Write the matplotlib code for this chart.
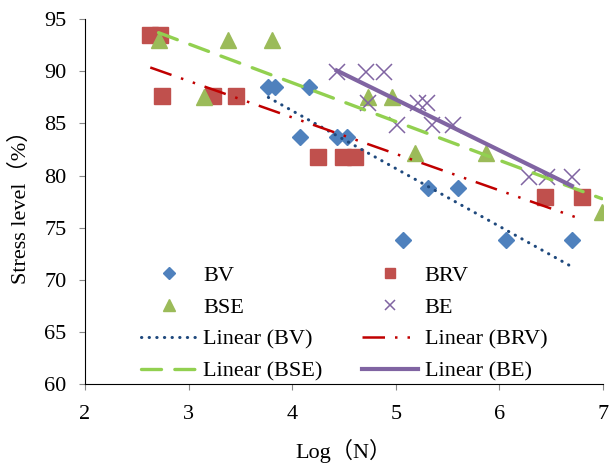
import numpy as np
import matplotlib.pyplot as plt

plt.rcParams['font.family'] = ['Liberation Serif', 'Noto Sans CJK SC']
plt.rcParams['font.size'] = 16

# Datos
bv_x = [3.77, 3.83, 4.08, 4.16, 4.43, 4.53, 5.07, 5.31, 5.60, 6.06, 6.70]
bv_y = [88.5, 88.5, 83.7, 88.5, 83.7, 83.7, 73.8, 78.8, 78.8, 73.8, 73.8]

brv_x = [2.63, 2.72, 2.74, 3.24, 3.46, 4.25, 4.49, 4.61, 6.44, 6.80]
brv_y = [93.5, 93.5, 87.6, 87.6, 87.6, 81.8, 81.8, 81.8, 77.9, 77.9]

bse_x = [2.71, 3.15, 3.38, 3.81, 4.73, 4.96, 5.19, 5.87, 6.99]
bse_y = [93.0, 87.5, 93.0, 93.0, 87.5, 87.5, 82.2, 82.2, 76.5]

be_x = [4.43, 4.71, 4.89, 4.73, 5.21, 5.30, 5.01, 5.35, 5.55, 6.29, 6.46, 6.70]
be_y = [89.9, 89.9, 89.9, 87.0, 87.0, 87.0, 84.9, 84.9, 84.9, 79.9, 79.9, 79.9]

xticks = [2, 3, 4, 5, 6, 7]
yticks = [60, 65, 70, 75, 80, 85, 90, 95]


def trend(x):
    # recta de tendencia entre el minimo y maximo
    return np.array([min(x), max(x)])


fig = plt.figure(figsize=(6.09, 4.65), dpi=100)
ax = fig.add_axes([0.1396, 0.1742, 0.8504, 0.7843])

h_bv, = ax.plot(bv_x, bv_y, 'D', color='#4F81BD', markersize=8.5, linestyle='none', label='BV')
h_brv, = ax.plot(brv_x, brv_y, 's', color='#C0504D', markersize=11, linestyle='none', label='BRV')
h_bse, = ax.plot(bse_x, bse_y, '^', color='#9BBB59', markersize=12, linestyle='none', label='BSE')
h_be, = ax.plot(be_x, be_y, 'x', color='#8064A2', markersize=11, markeredgewidth=1.1,
                linestyle='none', label='BE')

# lineas de tendencia (ajuste lineal)
xs = trend(bv_x)
p = np.polyfit(bv_x, bv_y, 1)
l_bv, = ax.plot(xs, np.polyval(p, xs), color='#1F497D', lw=2.2,
                linestyle=(0, (0.1, 2.4)), dash_capstyle='round', label='Linear (BV)')

xs = trend(brv_x)
p = np.polyfit(brv_x, brv_y, 1)
l_brv, = ax.plot(xs, np.polyval(p, xs), color='#C00000', lw=1.8,
                 linestyle=(0, (9, 4, 1, 4, 1, 4)), label='Linear (BRV)')

xs = trend(bse_x)
p = np.polyfit(bse_x, bse_y, 1)
l_bse, = ax.plot(xs, np.polyval(p, xs), color='#92D050', lw=2.4,
                 linestyle=(0, (6, 4)), dash_capstyle='round', label='Linear (BSE)')

xs = trend(be_x)
p = np.polyfit(be_x, be_y, 1)
l_be, = ax.plot(xs, np.polyval(p, xs), color='#8064A2', lw=3, label='Linear (BE)')

ax.set_xlim(2, 7)
ax.set_ylim(60, 95)
ax.set_xticks(xticks)
ax.set_yticks(yticks)
ax.spines['top'].set_visible(False)
ax.spines['right'].set_visible(False)
ax.tick_params(direction='out', length=4.3, color='#888888', labelsize=16)
ax.tick_params(axis='x', pad=11)
ax.tick_params(axis='y', pad=9)

ax.set_xlabel('Log（N）', fontsize=16)
ax.set_ylabel('Stress level（%）', fontsize=16)
ax.xaxis.set_label_coords(0.5, -0.152)
ax.yaxis.set_label_coords(-0.105, 0.5)

handles = [h_bv, h_bse, l_bv, l_bse, h_brv, h_be, l_brv, l_be]
ax.legend(handles=handles, ncol=2, frameon=False, loc='center',
          bbox_to_anchor=(0.5, 0.166), handlelength=2.5, handletextpad=0.3,
          columnspacing=1.8, labelspacing=0.51, markerscale=0.7, fontsize=16)

fig.savefig('out.png', dpi=100)
